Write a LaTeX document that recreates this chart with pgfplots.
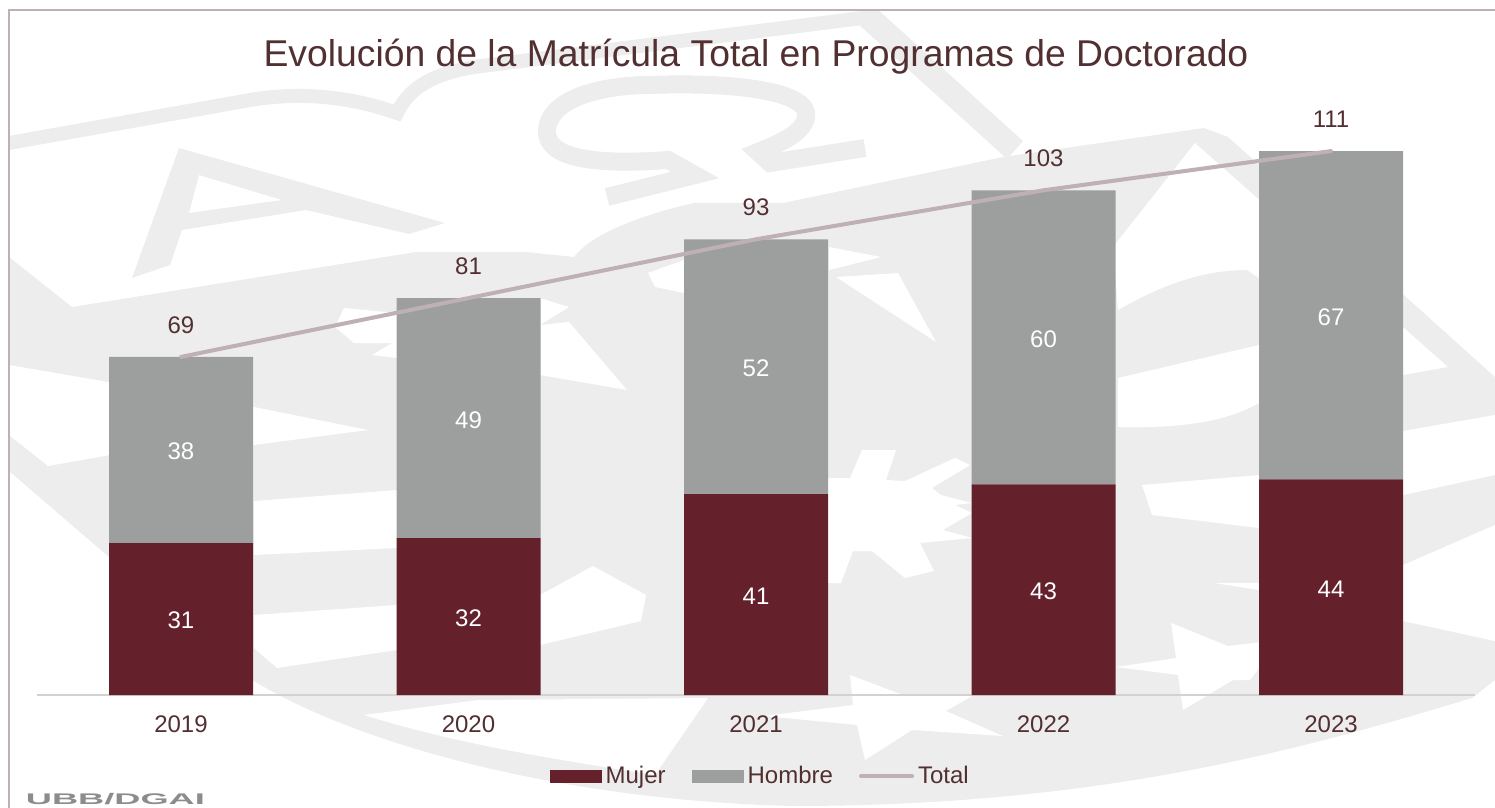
\documentclass[border=0pt]{standalone}
\usepackage{pgfplots}
\pgfplotsset{compat=1.18}
\usepackage{pgfplotstable}
\usepackage{fontspec}
\setmainfont{Liberation Sans}
\definecolor{mujer}{HTML}{64202B}
\definecolor{hombre}{HTML}{9D9F9E}
\definecolor{total}{HTML}{BFB0B3}
\definecolor{texto}{HTML}{522F31}
\definecolor{marca}{HTML}{EDEDED}
\definecolor{sigla}{HTML}{8C8C8C}

\pgfplotstableread{
x mujer hombre total
0 31 38 69
1 32 49 81
2 41 52 93
3 43 60 103
4 44 67 111
}\datos

\pgfplotsset{
  base/.style={
    at={(18.625pt,-347.5pt)}, anchor=south west,
    scale only axis, width=718.75pt, height=294pt,
    xmin=-0.5, xmax=4.5, ymin=0, ymax=120,
  },
}

\begin{document}
\begin{tikzpicture}[font=\fontsize{12}{14}\selectfont]
\useasboundingbox (0pt,0pt) rectangle (747.5pt,-404pt);

% fondo: marca de agua, en pixeles de la imagen
\begin{scope}[x=0.5pt,y=-0.5pt]
\clip (9,11) rectangle (1495,808);
\fill[marca,even odd rule] (179,148) -- (445,223) -- (409,234) -- (306,210) -- (182,230) -- (170,265) -- (132,278) -- cycle
  (199,175) -- (282,200) -- (189,213) -- cycle;
\draw[marca,line width=9pt] (607,197) -- (695,175) -- (668,160) .. controls (600,165) and (545,160) .. (547,130)
  .. controls (550,95) and (610,85) .. (650,85) .. controls (730,82) and (812,90) .. (806,118)
  .. controls (802,135) and (775,145) .. (758,152) -- (770,163) -- (865,148);
\draw[marca,line width=7pt] (9,143) -- (250,100) .. controls (310,90) and (360,100) .. (397,113)
  .. controls (410,85) and (440,70) .. (490,65) -- (870,17);
\draw[marca,line width=12pt] (866,15) -- (1015,150);
% cuerpo central y arco inferior
\fill[marca] (9,257) -- (72,307) -- (416,252) -- (526,252) -- (574,257) .. controls (590,235) and (640,215) .. (694,203)
  -- (783,203) -- (1003,157) -- (1204,128) -- (1228,137) -- (1495,377) -- (1495,680) -- (1472,698)
  .. controls (1300,750) and (1100,806) .. (793,806)
  .. controls (550,800) and (350,740) .. (254,681) -- (110,558) -- (9,471) -- cycle;
% recortes blancos
\fill[white] (1195,143) -- (1113,247) -- (1118,310) .. controls (1170,280) and (1210,270) .. (1247,270) -- (1403,375) -- (1448,367) -- cycle;
\fill[white] (1118,378) -- (1259,345) -- (1259,403) .. controls (1220,425) and (1170,428) .. (1118,427) -- cycle;
\fill[white] (1403,431) -- (1495,415) -- (1495,475) -- (1403,495) -- cycle;
\fill[white] (1142,485) -- (1152,515) -- (1259,528) -- (1259,475) -- cycle;
\fill[white] (1403,565) -- (1495,525) -- (1495,641) -- (1403,621) -- cycle;
\fill[white] (1214,583) -- (1259,583) -- (1259,590) -- cycle;
\fill[white] (1171,623) -- (1228,646) -- (1280,640) -- (1250,680) -- (1233,680) -- (1183,710) -- (1178,675) -- (1116,667) -- (1176,658) -- cycle;
\fill[white] (850,675) -- (903,695) -- (972,696) -- (946,711) -- (1003,736) -- (912,730) -- (865,760) -- (857,725) -- (764,716) -- (853,705) -- cycle;
\fill[white] (862,450) -- (896,450) -- (886,480) -- (905,481) -- (955,458) -- (970,465) -- (932,488) -- (941,495) -- (972,503) -- (955,505) -- (972,513) -- (943,530) -- (972,538) -- (920,543) -- (934,571) -- (905,578) -- (872,551) -- (853,551) -- (841,583) -- (828,583) -- (828,478) -- (850,478) -- cycle;
\fill[white] (9,365) -- (254,407) -- (368,430) -- (254,445) -- (110,455) -- (48,466) -- (9,435) -- cycle;
\fill[white] (372,355) -- (397,340) -- (569,322) -- (627,390) -- (540,375) -- cycle;
\fill[white] (335,327) -- (344,308) -- (397,313) -- (397,343) -- (354,343) -- cycle;
\fill[white] (540,298) -- (569,307) -- (540,325) -- cycle;
\fill[white] (648,273) -- (684,260) -- (684,293) -- (655,287) -- cycle;
\fill[white] (829,247) -- (881,257) -- (829,270) -- cycle;
\fill[white] (836,277) -- (898,273) -- (936,342) -- cycle;
\fill[white] (254,501) -- (397,490) -- (397,548) -- (254,555) -- cycle;
\fill[white] (540,595) -- (593,566) -- (646,595) -- (641,621) -- (540,645) -- cycle;
\fill[white] (254,615) -- (397,605) -- (397,650) -- (277,668) -- (254,648) -- cycle;
\fill[white] (364,715) -- (478,700) -- (708,698) -- (655,775) .. controls (560,760) and (460,745) .. cycle;
\end{scope}

% marco
\draw[total,line width=1pt] (4.25pt,-404pt) -- (4.25pt,-5.25pt) -- (747.5pt,-5.25pt);

\begin{axis}[
  base,
  ybar stacked,
  bar width=72pt,
  title={Evolución de la Matrícula Total en Programas de Doctorado},
  title style={at={(0.5,1)}, anchor=center, yshift=19pt, text=texto, font=\fontsize{18.65}{22}\selectfont},
  axis x line=bottom,
  axis y line=none,
  x axis line style={-, draw=gray!35, line width=0.7pt},
  xtick=data,
  xticklabels={2019,2020,2021,2022,2023},
  xtick style={draw=none},
  xticklabel style={text=texto, font=\fontsize{12}{14}\selectfont, yshift=-4.5pt},
  /pgf/number format/assume math mode=true,
  nodes near coords,
  every node near coord/.append style={anchor=center, yshift=-0.8pt, text=white, font=\fontsize{12}{14}\selectfont},
  legend columns=-1,
  legend style={at={(0.5036,-0.138)}, anchor=center, draw=none, fill=none, text=texto,
    font=\fontsize{12}{14}\selectfont,
    /tikz/every even column/.append style={column sep=11pt}},
  legend cell align=left,
]
\addplot[fill=mujer, draw=none, point meta=explicit,
  legend image code/.code={\fill[mujer] (0pt,-3.25pt) rectangle (26pt,3.25pt);}]
  table[x=x, y=mujer, meta=mujer] {\datos};
\addlegendentry{Mujer}
\addplot[fill=hombre, draw=none, point meta=explicit,
  legend image code/.code={\fill[hombre] (0pt,-3.25pt) rectangle (26pt,3.25pt);}]
  table[x=x, y=hombre, meta=hombre] {\datos};
\addlegendentry{Hombre}
\addlegendimage{legend image code/.code={\draw[total,line width=2pt,line cap=round] (0pt,0pt) -- (25.5pt,0pt);}}
\addlegendentry{Total}
\end{axis}

\begin{axis}[
  base,
  hide axis,
  clip=false,
  /pgf/number format/assume math mode=true,
  nodes near coords,
  every node near coord/.append style={anchor=center, yshift=15.8pt, text=texto, font=\fontsize{12}{14}\selectfont},
]
\addplot[total, line width=2pt, line cap=round, mark=none, point meta=explicit]
  table[x=x, y=total, meta=total] {\datos};
\end{axis}

\node[anchor=west, text=sigla, font=\bfseries\fontsize{7.7}{9}\selectfont, xscale=2.35, inner sep=0pt] at (12.5pt,-399.5pt) {UBB/DGAI};
\end{tikzpicture}
\end{document}
